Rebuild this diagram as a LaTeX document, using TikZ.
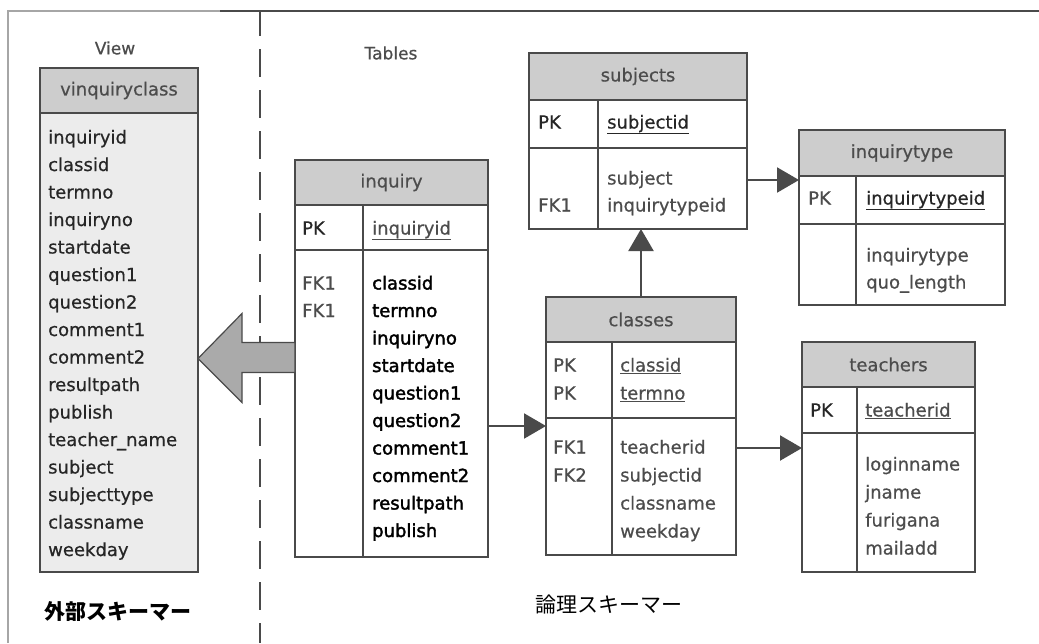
\documentclass[tikz,border=0pt]{standalone}
\usepackage{fontspec}
\setmainfont{DejaVu Sans}
\newfontfamily\jpfont{Noto Sans CJK JP}
\newfontfamily\fbfont[FakeBold=2]{DejaVu Sans}
\newfontfamily\fmfont[FakeBold=0.6]{DejaVu Sans}
\usetikzlibrary{arrows.meta}
\definecolor{hdrgray}{HTML}{CDCDCD}
\definecolor{viewgray}{HTML}{ECECEC}
\definecolor{linegray}{HTML}{4A4A4A}
\definecolor{txtgray}{HTML}{4C4C4C}
\definecolor{txtdark}{HTML}{262626}
\definecolor{arrowfill}{HTML}{AAAAAA}
\tikzset{
  tblbody/.style={draw=linegray, line width=1.5pt, fill=white, anchor=north west, inner sep=0pt, outer sep=0pt},
  hdr/.style={draw=linegray, line width=1.5pt, fill=hdrgray, anchor=north west, inner sep=0pt, outer sep=0pt, text=txtgray, font=\fmfont\fontsize{18}{20}\selectfont},
  tline/.style={draw=linegray, line width=1.5pt},
  fld/.style={anchor=base west, inner sep=0pt, text=txtgray, font=\fmfont\fontsize{18}{20}\selectfont},
  flddark/.style={fld, text=txtdark},
  fldbold/.style={fld, text=black, font=\fbfont\fontsize{18}{20}\selectfont},
  conn/.style={draw=linegray, line width=2.2pt, -{Triangle[length=22pt,width=25pt]}},
  bigarrow/.style={draw=linegray, line width=1.2pt, fill=arrowfill, line join=miter},
  lbl/.style={inner sep=0pt, text=txtgray, font=\fmfont\fontsize{17}{20}\selectfont},
  jp/.style={inner sep=0pt, anchor=west, text=black, font=\jpfont\fontsize{21}{24}\selectfont}
}
\begin{document}
\begin{tikzpicture}[x=1pt,y=-1pt]
\useasboundingbox[fill=white] (0,0) rectangle (1039,643);

% frame
\draw[draw=gray!70, line width=1.2pt] (8,643) -- (8,11) -- (220,11);
\draw[draw=linegray, line width=1.2pt] (220,11) -- (1039,11);
\draw[draw=linegray, line width=1.4pt] (260,11) -- (260,36);
\draw[draw=linegray, line width=1.6pt, dash pattern=on 28pt off 13pt] (260,49) -- (260,643);

% labels
\node[lbl] (viewlbl) at (115,48) {View};
\node[lbl] (tbllbl) at (391,53) {Tables};
\node[jp, font=\jpfont\bfseries\fontsize{21}{24}\selectfont] (extlbl) at (44,612) {外部スキーマー};
\node[jp] (loglbl) at (535,605) {論理スキーマー};

% ---------- vinquiryclass ----------
\node[tblbody, fill=viewgray, minimum width=158pt, minimum height=504pt] (vi) at (40,68) {};
\node[hdr, minimum width=158pt, minimum height=45pt] (viH) at (40,68) {vinquiryclass};
\foreach \t [count=\i from 0] in {inquiryid,classid,termno,inquiryno,startdate,question1,question2,comment1,comment2,resultpath,publish,teacher\_name,subject,subjecttype,classname,weekday}
  \node[flddark] (vi-\i) at (48,143.5+\i*27.5) {\t};

% ---------- inquiry ----------
\node[tblbody, minimum width=193pt, minimum height=397pt] (inq) at (295,160) {};
\node[hdr, minimum width=193pt, minimum height=45pt] (inqH) at (295,160) {inquiry};
\draw[tline] (295,250) -- (488,250);
\draw[tline] (363,205) -- (363,557);
\node[flddark] (inqPK) at (302,234.5) {PK};
\node[fld] (inqPKf) at (372,234.5) {\underline{inquiryid}};
\node[fld] (inqFK1) at (302,289.5) {FK1};
\node[fld] (inqFK2) at (302,317) {FK1};
\foreach \t [count=\i from 0] in {classid,termno,inquiryno,startdate,question1,question2,comment1,comment2,resultpath,publish}
  \node[fldbold] (inq-\i) at (372,289.5+\i*27.5) {\t};

% ---------- subjects ----------
\node[tblbody, minimum width=218pt, minimum height=176pt] (subj) at (529,53) {};
\node[hdr, minimum width=218pt, minimum height=47pt] (subjH) at (529,53) {subjects};
\draw[tline] (529,148) -- (747,148);
\draw[tline] (598,100) -- (598,229);
\node[flddark] (subjPK) at (538,128.5) {PK};
\node[flddark] (subjPKf) at (607,128.5) {\underline{subjectid}};
\node[fld] (subjF1) at (607,184.5) {subject};
\node[fld] (subjF2) at (607,211.5) {inquirytypeid};
\node[fld] (subjFK) at (538,211.5) {FK1};

% ---------- inquirytype ----------
\node[tblbody, minimum width=206pt, minimum height=175pt] (ity) at (799,130) {};
\node[hdr, minimum width=206pt, minimum height=46pt] (ityH) at (799,130) {inquirytype};
\draw[tline] (799,224) -- (1005,224);
\draw[tline] (856,176) -- (856,305);
\node[fld] (ityPK) at (808,204.5) {PK};
\node[flddark] (ityPKf) at (866,204.5) {\underline{inquirytypeid}};
\node[fld] (ityF1) at (866,261.5) {inquirytype};
\node[fld] (ityF2) at (866,288.5) {quo\_length};

% ---------- classes ----------
\node[tblbody, minimum width=190pt, minimum height=258pt] (cls) at (546,297) {};
\node[hdr, minimum width=190pt, minimum height=45pt] (clsH) at (546,297) {classes};
\draw[tline] (546,418) -- (736,418);
\draw[tline] (612,342) -- (612,555);
\node[fld] (clsPK1) at (553,371.5) {PK};
\node[fld] (clsPK2) at (553,399.5) {PK};
\node[fld] (clsPKf1) at (620,371.5) {\underline{classid}};
\node[fld] (clsPKf2) at (620,399.5) {\underline{termno}};
\node[fld] (clsFK1) at (553,453.5) {FK1};
\node[fld] (clsFK2) at (553,481.5) {FK2};
\foreach \t [count=\i from 0] in {teacherid,subjectid,classname,weekday}
  \node[fld] (cls-\i) at (620,453.5+\i*28) {\t};

% ---------- teachers ----------
\node[tblbody, minimum width=173pt, minimum height=230pt] (tch) at (802,342) {};
\node[hdr, minimum width=173pt, minimum height=45pt] (tchH) at (802,342) {teachers};
\draw[tline] (802,433) -- (975,433);
\draw[tline] (857,387) -- (857,572);
\node[flddark] (tchPK) at (810,416.5) {PK};
\node[fld] (tchPKf) at (865,416.5) {\underline{teacherid}};
\foreach \t [count=\i from 0] in {loginname,jname,furigana,mailadd}
  \node[fld] (tch-\i) at (865,470.5+\i*28) {\t};

% ---------- connectors ----------
\draw[conn] (inq.east |- cls.west) -- (cls.west);
\draw[conn] (cls.north) -- (cls.north |- subj.south);
\draw[conn] ([yshift=-39pt]subj.east) -- ([yshift=-39pt]subj.east -| ity.west);
\draw[conn] ([yshift=-22pt]cls.east) -- ([yshift=-22pt]cls.east -| tch.west);

% big arrow inquiry -> view
\draw[bigarrow] ([yshift=16pt]inq.west) -- ++(-53,0) -- ++(0,-29)
  -- (vi.east |- inq.west) -- ++(44,44) -- ++(0,-30)
  -- ([yshift=-14pt]inq.west) -- cycle;
\end{tikzpicture}
\end{document}
